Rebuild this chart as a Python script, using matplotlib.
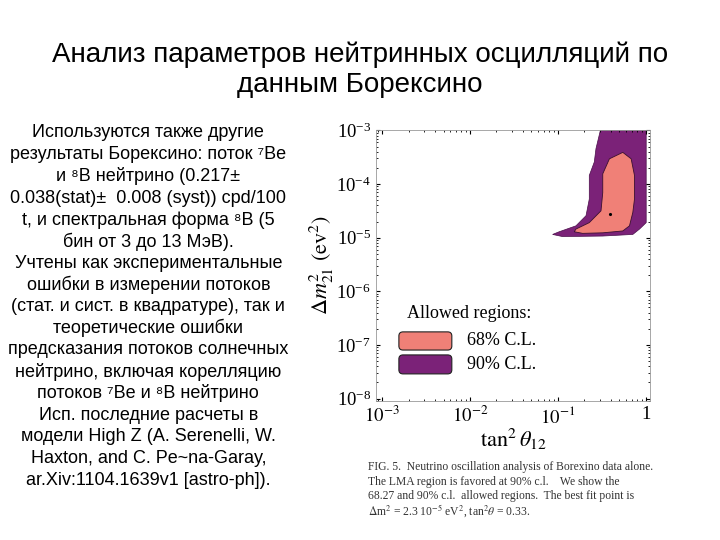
import numpy as np
import matplotlib
matplotlib.use('Agg')
import matplotlib.pyplot as plt
from matplotlib.patches import FancyBboxPatch

plt.rcParams['mathtext.fontset'] = 'stix'

TITLE = ['Анализ параметров нейтринных осцилляций по', 'данным Борексино']
BODY = ['Используются также другие',
        'результаты Борексино: поток ⁷Be',
        'и ⁸B нейтрино (0.217±',
        '0.038(stat)±  0.008 (syst)) cpd/100',
        't, и спектральная форма ⁸B (5',
        'бин от 3 до 13 МэВ).',
        'Учтены как экспериментальные',
        'ошибки в измерении потоков',
        '(стат. и сист. в квадратуре), так и',
        'теоретические ошибки',
        'предсказания потоков солнечных',
        'нейтрино, включая корелляцию',
        'потоков ⁷Be и ⁸B нейтрино',
        'Исп. последние расчеты в',
        'модели High Z (A. Serenelli, W.',
        'Haxton, and C. Pe~na-Garay,',
        'ar.Xiv:1104.1639v1 [astro-ph]).']
CAPTION = ['FIG. 5.  Neutrino oscillation analysis of Borexino data alone.',
           'The LMA region is favored at 90% c.l.    We show the',
           '68.27 and 90% c.l.  allowed regions.  The best fit point is',
           r'$\Delta$m$^2$ = 2.3 10$^{-5}$ eV$^2$, tan$^2\theta$ = 0.33.']

# contours in log10 units (tan^2 theta, dm^2)
LX90 = [-0.517, 0.004, 0.004, -0.072, -0.148, -0.49, -0.947, -1.06, -0.985, -0.795,
        -0.68, -0.643, -0.643, -0.586, -0.567]
LY90 = [-3.0, -3.0, -4.72, -4.84, -4.94, -4.97, -4.98, -4.94, -4.89, -4.78,
        -4.59, -4.28, -3.84, -3.59, -3.34]
LX68 = [-0.262, -0.167, -0.129, -0.129, -0.148, -0.186, -0.262, -0.49, -0.719, -0.814,
        -0.795, -0.643, -0.51, -0.49, -0.49, -0.414]
LY68 = [-3.41, -3.53, -3.84, -4.28, -4.53, -4.78, -4.875, -4.91, -4.92, -4.89,
        -4.84, -4.72, -4.5, -4.16, -3.81, -3.53]
BEST = (0.39, 2.75e-5)

C90 = '#7b2278'
C68 = '#f08077'

fig = plt.figure(figsize=(7.2, 5.4), dpi=100)
sans = ['Liberation Sans', 'DejaVu Sans']
fig.text(0.5, 0.898, TITLE[0], ha='center', va='center', fontsize=20, family=sans)
fig.text(0.5, 0.843, TITLE[1], ha='center', va='center', fontsize=20, family=sans)
for i, line in enumerate(BODY):
    fig.text(0.206, 1 - (133 + i * 21.7) / 540, line, ha='center', va='center',
             fontsize=13, family=sans)

ax = fig.add_axes([0.522, 0.2574, 0.381, 0.502])
ax.fill(10 ** np.array(LX90), 10 ** np.array(LY90), color=C90, lw=0.5, ec='#4a0f4a')
ax.fill(10 ** np.array(LX68), 10 ** np.array(LY68), color=C68, lw=0.6, ec='#3a1030')
ax.plot(*BEST, 'k.', ms=2.5)
ax.set_xscale('log'); ax.set_yscale('log')
ax.set_xlim(8.5e-4, 1.12)
ax.set_ylim(9e-9, 1.02e-3)
ax.set_xticks([1e-3, 1e-2, 1e-1, 1])
ax.set_xticklabels([r'$10^{-3}$', r'$10^{-2}$', r'$10^{-1}$', '1'])
ax.set_yticks([10.0 ** k for k in range(-8, -2)])
ax.tick_params(labelsize=13.5, direction='in', top=True, right=True, length=3)
ax.tick_params(which='minor', direction='in', top=True, right=True, length=1.5)
for t in ax.get_xticklabels() + ax.get_yticklabels():
    t.set_family('Liberation Serif')
for s in ax.spines.values():
    s.set_color('#999999'); s.set_linewidth(0.6)
ax.set_xlabel(r'$\tan^2\theta_{12}$', fontsize=16, labelpad=0)
ax.set_ylabel(r'$\Delta m^2_{21}\ (\mathrm{ev}^2)$', fontsize=16, labelpad=0)

# legend
ax.text(0.339, 0.321, 'Allowed regions:', transform=ax.transAxes, ha='center',
        va='center', fontsize=13, family='Liberation Serif')
for (y0, h, c, lab) in [(0.188, 0.067, C68, '68% C.L.'), (0.10, 0.07, C90, '90% C.L.')]:
    ax.add_patch(FancyBboxPatch((0.084, y0), 0.193, h, boxstyle='round,pad=0,rounding_size=0.015',
                                transform=ax.transAxes, fc=c, ec='#222222', lw=0.8))
    ax.text(0.332, y0 + h / 2, lab, transform=ax.transAxes, va='center', fontsize=13,
            family='Liberation Serif')

for i, line in enumerate(CAPTION):
    fig.text(0.511, 1 - (467 + i * 14.5) / 540, line, ha='left', va='center',
             fontsize=8.4, family='Liberation Serif', color='#333333')

fig.savefig('out.png', dpi=100)
